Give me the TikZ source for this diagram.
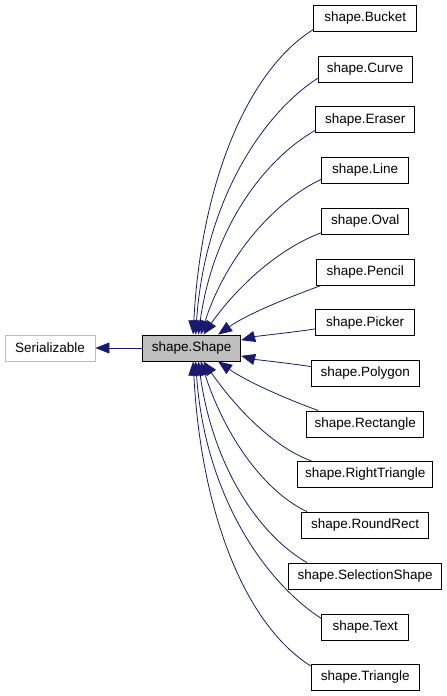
\documentclass[tikz,border=0pt]{standalone}
\usepackage{fontspec}
\setmainfont{Liberation Sans}
\definecolor{dxnavy}{RGB}{25,25,112}
\definecolor{dxgrey}{RGB}{191,191,191}
\usetikzlibrary{arrows.meta}

\begin{document}
\begin{tikzpicture}[x=1pt,y=1pt,
  cls/.style={draw=black,fill=white,line width=0.9pt,minimum height=26pt,inner sep=0pt,font=\fontsize{13.5}{15}\selectfont},
  derived/.style={dxnavy,line width=0.8pt,-{Triangle[length=14pt,width=11pt]}}]
  \useasboundingbox (0,0) rectangle (447,-696);
  \node[cls,fill=dxgrey,minimum width=98pt] (shape) at (191.7,-348) {shape.Shape};
  \node[cls,draw=dxgrey,minimum width=90pt] (serializable) at (50,-348) {Serializable};
  \draw[derived] (shape) -- (serializable);
  % subclasses, one column
  \foreach \n/\txt/\y/\w in {bucket/Bucket/18.5/103, curve/Curve/69/94, eraser/Eraser/119.7/99,
      line/Line/170/87, oval/Oval/221/87, pencil/Pencil/272/98, picker/Picker/322.7/99,
      polygon/Polygon/373.3/108, rectangle/Rectangle/424/117, righttriangle/RightTriangle/474.3/135,
      roundrect/RoundRect/525/127, selectionshape/SelectionShape/576/153, text/Text/627/87,
      triangle/Triangle/677.5/108}
    \node[cls,minimum width=\w pt] (\n) at (365.2,-\y) {shape.\txt};
  % inheritance edges
  \foreach \n/\a/\t/\o/\i/\lo/\li in {bucket/192/84/212/87/0.6/1.2, curve/191/74/213/86/0.6/1.2,
      eraser/192/64/210/82/0.62/1.2, line/192/56/205/72/0.65/1.1, oval/195/49/200/55/0.7/1,
      pencil/197/27/200/35/0.8/0.8, picker/187/9/190/15/0.5/0.5, polygon/173/351/170/345/0.5/0.5,
      rectangle/164/333/160/325/0.8/0.8, righttriangle/166/311/160/305/0.7/1,
      roundrect/167/304/155/288/0.65/1.1, selectionshape/167/296/150/278/0.62/1.2,
      text/169/286/147/274/0.6/1.2, triangle/168/276/148/273/0.6/1.2}
    \draw[derived] (\n.\a) to[out=\o,in=\i,out looseness=\lo,in looseness=\li] (shape.\t);
\end{tikzpicture}
\end{document}
